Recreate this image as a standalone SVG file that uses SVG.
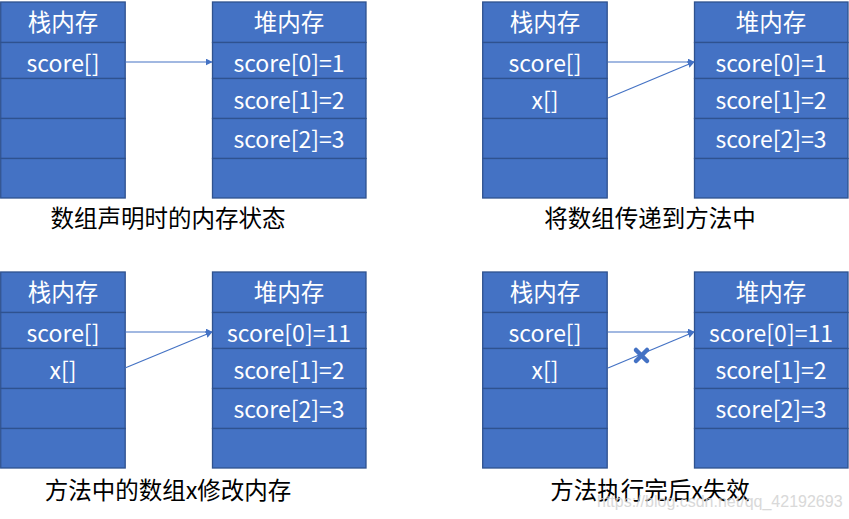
<svg xmlns="http://www.w3.org/2000/svg" width="849" height="519" viewBox="0 0 849 519">
<defs>
<style>
.box{fill:#4472C4;stroke:#2F528F;stroke-width:1.3}
.t{font-family:"Noto Sans CJK SC","Liberation Sans",sans-serif;font-size:23px;fill:#fff;text-anchor:middle;dominant-baseline:central}
.h{font-size:23.5px}
.cap{font-family:"Noto Sans CJK SC","Liberation Sans",sans-serif;font-size:23.5px;fill:#000;text-anchor:middle;dominant-baseline:central}
.c{stroke:#4472C4;stroke-width:1.2;fill:none;marker-end:url(#ah)}
.wm{font-family:"Liberation Sans",sans-serif;font-size:16px;fill:#d0d0d0;opacity:0.8}
</style>
<marker id="ah" viewBox="0 0 10 10" refX="9" refY="5" markerWidth="7" markerHeight="7" markerUnits="userSpaceOnUse" orient="auto">
<path d="M0,0 L10,5 L0,10 z" fill="#4472C4"/>
</marker>
<g id="stackTpl">
<rect class="box" x="0.7" y="2" width="124.5" height="40.5"/>
<rect class="box" x="0.7" y="42.5" width="124.5" height="36"/>
<rect class="box" x="0.7" y="78.5" width="124.5" height="40"/>
<rect class="box" x="0.7" y="118.5" width="124.5" height="40"/>
<rect class="box" x="0.7" y="158.5" width="124.5" height="39.5"/>
<text class="t h" x="63" y="21">栈内存</text>
</g>
<g id="heapTpl">
<rect class="box" x="212.5" y="2" width="153.5" height="40.5"/>
<rect class="box" x="212.5" y="42.5" width="153.5" height="36"/>
<rect class="box" x="212.5" y="78.5" width="153.5" height="40"/>
<rect class="box" x="212.5" y="118.5" width="153.5" height="40"/>
<rect class="box" x="212.5" y="158.5" width="153.5" height="39.5"/>
<text class="t h" x="289" y="21">堆内存</text>
</g>
</defs>
<rect width="849" height="519" fill="#fff"/>

<g id="stack1">
<use href="#stackTpl"/>
<text class="t" x="63" y="62">score[]</text>
</g>
<g id="heap1">
<use href="#heapTpl"/>
<text class="t" x="289" y="62">score[0]=1</text>
<text class="t" x="289" y="99">score[1]=2</text>
<text class="t" x="289" y="138">score[2]=3</text>
</g>
<g id="stack2" transform="translate(482,0)">
<use href="#stackTpl"/>
<text class="t" x="63" y="62">score[]</text>
<text class="t" x="63" y="99">x[]</text>
</g>
<g id="heap2" transform="translate(482,0)">
<use href="#heapTpl"/>
<text class="t" x="289" y="62">score[0]=1</text>
<text class="t" x="289" y="99">score[1]=2</text>
<text class="t" x="289" y="138">score[2]=3</text>
</g>
<g id="stack3" transform="translate(0,270)">
<use href="#stackTpl"/>
<text class="t" x="63" y="62">score[]</text>
<text class="t" x="63" y="99">x[]</text>
</g>
<g id="heap3" transform="translate(0,270)">
<use href="#heapTpl"/>
<text class="t" x="289" y="62">score[0]=11</text>
<text class="t" x="289" y="99">score[1]=2</text>
<text class="t" x="289" y="138">score[2]=3</text>
</g>
<g id="stack4" transform="translate(482,270)">
<use href="#stackTpl"/>
<text class="t" x="63" y="62">score[]</text>
<text class="t" x="63" y="99">x[]</text>
</g>
<g id="heap4" transform="translate(482,270)">
<use href="#heapTpl"/>
<text class="t" x="289" y="62">score[0]=11</text>
<text class="t" x="289" y="99">score[1]=2</text>
<text class="t" x="289" y="138">score[2]=3</text>
</g>

<g id="connectors">
<line class="c" x1="125" y1="62" x2="212" y2="62"/>
<line class="c" x1="608" y1="62" x2="694" y2="62"/>
<line class="c" x1="608" y1="98" x2="694" y2="62"/>
<line class="c" x1="125" y1="332" x2="212" y2="332"/>
<line class="c" x1="125" y1="368" x2="212" y2="332"/>
<line class="c" x1="608" y1="332" x2="694" y2="332"/>
<line class="c" x1="608" y1="368" x2="694" y2="332"/>
</g>
<g id="xmark" stroke="#4472C4" stroke-width="4.5" stroke-linecap="round">
<line x1="636" y1="350" x2="647" y2="361"/>
<line x1="647" y1="350" x2="636" y2="361"/>
</g>

<g id="captions">
<text class="cap" x="168" y="217">数组声明时的内存状态</text>
<text class="cap" x="650" y="217">将数组传递到方法中</text>
<text class="cap" x="168" y="489">方法中的数组x修改内存</text>
<text class="cap" x="650" y="489">方法执行完后x失效</text>
</g>
<text class="wm" x="597" y="507">https://blog.csdn.net/qq_42192693</text>
</svg>
